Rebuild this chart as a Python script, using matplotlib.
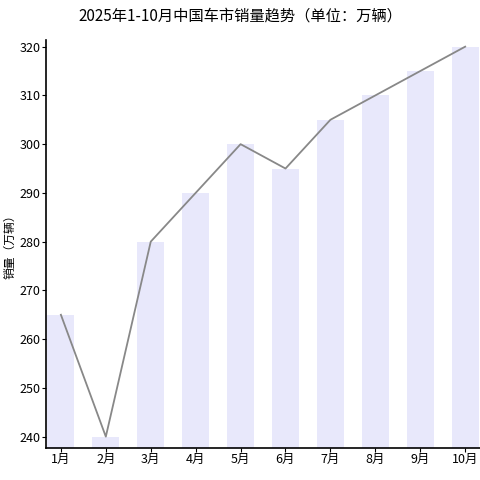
import matplotlib
matplotlib.use("Agg")
import matplotlib.pyplot as plt

plt.rcParams['font.family'] = ['Noto Sans CJK SC', 'DejaVu Sans']

months = ["1月","2月","3月","4月","5月","6月","7月","8月","9月","10月"]
sales = [265, 240, 280, 290, 300, 295, 305, 310, 315, 320]
yticks = [240, 250, 260, 270, 280, 290, 300, 310, 320]

fig = plt.figure(figsize=(4.8, 4.8), dpi=100)
ax = fig.add_axes([0.096, 0.067, 0.904, 0.85])
ymin = 237.7
x = list(range(len(months)))
ax.bar(x, [v - ymin for v in sales], bottom=ymin, width=0.6, color="#e8e8fb", zorder=1)
ax.plot(x, sales, color="#888888", lw=1.3, zorder=2)
ax.set_ylim(ymin, 321.4)
ax.set_xlim(-0.33, 9.33)
ax.set_yticks(yticks)
ax.set_xticks(x)
ax.set_xticklabels(months)
ax.tick_params(labelsize=9, length=3, pad=1)
for s in ("top", "right"):
    ax.spines[s].set_visible(False)
ax.spines["left"].set_linewidth(1.2)
ax.spines["bottom"].set_linewidth(1.2)
ax.set_ylabel("销量（万辆）", fontsize=8.5)
ax.yaxis.set_label_coords(-0.068, 0.5)
fig.suptitle("2025年1-10月中国车市销量趋势（单位：万辆）", fontsize=11, y=0.985)
fig.savefig("out.png", dpi=100)
